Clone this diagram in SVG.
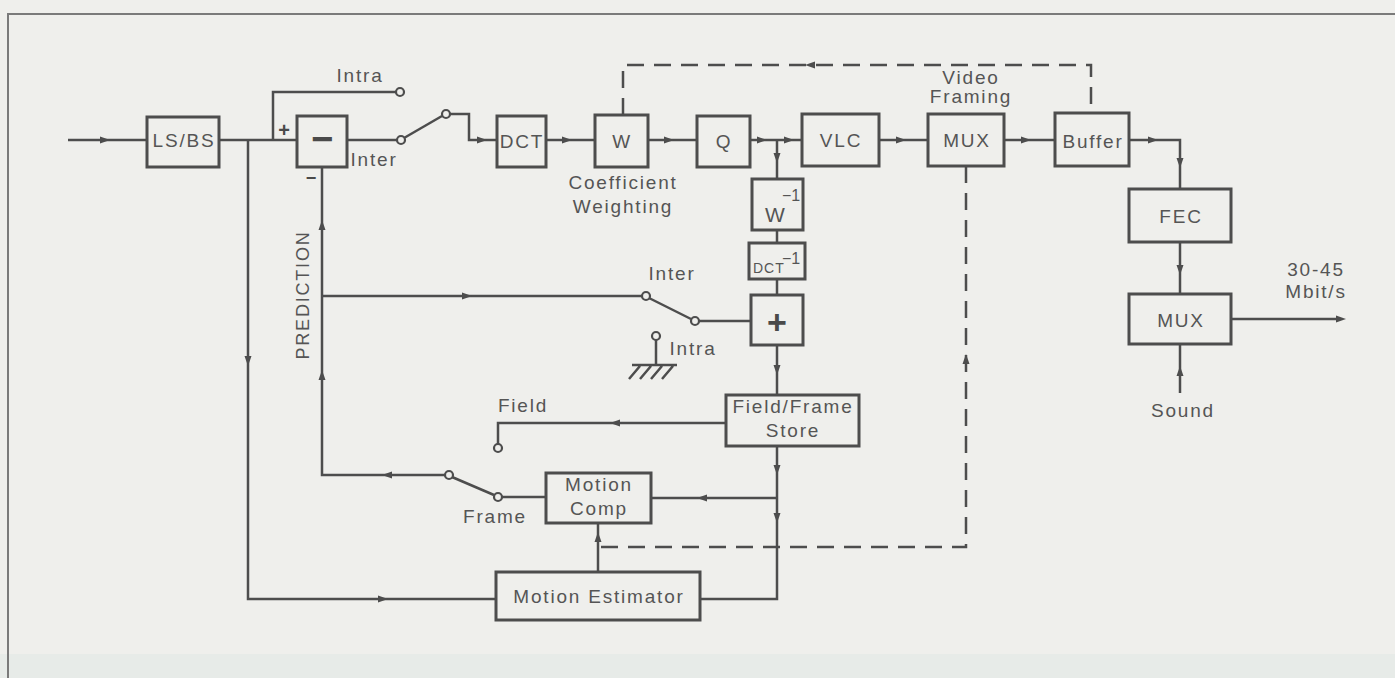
<svg xmlns="http://www.w3.org/2000/svg" xmlns:xlink="http://www.w3.org/1999/xlink" width="1395" height="678" viewBox="0 0 1395 678">
<style>
.bg{fill:#efefec}
.box{fill:none;stroke:#4d4d4d;stroke-width:3}
.ln{fill:none;stroke:#4d4d4d;stroke-width:2.5}
.dash{fill:none;stroke:#4d4d4d;stroke-width:2.5;stroke-dasharray:17 10}
.frm{fill:none;stroke:#7a7a7a;stroke-width:2}
.t{font-family:"Liberation Sans",Arial,sans-serif;font-size:19px;letter-spacing:1.8px;fill:#555;text-anchor:middle}
.s{font-family:"Liberation Sans",Arial,sans-serif;font-size:14px;letter-spacing:1px;fill:#555}
.sup{font-family:"Liberation Sans",Arial,sans-serif;font-size:16px;fill:#555}
.op{font-family:"Liberation Sans",Arial,sans-serif;font-weight:bold;fill:#4a4a4a;text-anchor:middle}
.ah{fill:#4d4d4d}
.c{fill:#efefec;stroke:#4d4d4d;stroke-width:2.2}
</style>
<defs>
<path id="ar" class="ah" d="M-6,-3.5 L4,0 L-6,3.5 Z"/>
</defs>
<rect class="bg" x="0" y="0" width="1395" height="678"/>
<rect x="0" y="654" width="1395" height="24" fill="#e7ebe8"/>
<path class="frm" d="M8,678 V14 H1395"/>

<g id="connectors">
<path class="ln" d="M68,140 H147"/>
<path class="ln" d="M219,140 H297"/>
<path class="ln" d="M248,140 V599 H496"/>
<path class="ln" d="M273,140 V92 H396"/>
<path class="ln" d="M347,140 H397"/>
<path class="ln" d="M404,138 L442,116"/>
<path class="ln" d="M450,114 H469 V140 H497"/>
<path class="ln" d="M546,140 H595"/>
<path class="ln" d="M648,140 H697"/>
<path class="ln" d="M750,140 H802"/>
<path class="ln" d="M777,140 V179 M777,230 V243 M777,279 V295 M777,345 V395 M777,446 V599 H700"/>
<path class="ln" d="M879,140 H928"/>
<path class="ln" d="M1004,140 H1055"/>
<path class="ln" d="M1129,140 H1180 V189"/>
<path class="ln" d="M1180,242 V294"/>
<path class="ln" d="M1180,393 V344"/>
<path class="ln" d="M1231,319 H1340"/>
<path class="ln" d="M322,167 V475 H445"/>
<path class="ln" d="M322,296 H642"/>
<path class="ln" d="M649,298 L691,319"/>
<path class="ln" d="M699,321 H751"/>
<path class="ln" d="M656,340 V365 M632,365 H677 M640,366 L629,379 M651,366 L640,379 M662,366 L651,379 M673,366 L662,379"/>
<path class="ln" d="M726,423 H498 V444"/>
<path class="ln" d="M452,477 L494,495"/>
<path class="ln" d="M502,497 H546"/>
<path class="ln" d="M651,498 H777"/>
<path class="ln" d="M598,572 V523"/>
<path class="dash" d="M623,115 V65 H1091 V113"/>
<path class="dash" d="M966,166 V547 H598"/>
<circle class="c" cx="400" cy="92" r="4"/>
<circle class="c" cx="401" cy="140" r="4"/>
<circle class="c" cx="446" cy="114" r="4"/>
<circle class="c" cx="646" cy="296" r="4"/>
<circle class="c" cx="695" cy="321" r="4"/>
<circle class="c" cx="656" cy="336" r="4"/>
<circle class="c" cx="449" cy="475" r="4"/>
<circle class="c" cx="498" cy="448" r="4"/>
<circle class="c" cx="498" cy="497" r="4"/>
<use xlink:href="#ar" transform="translate(106,140)"/>
<use xlink:href="#ar" transform="translate(483,140)"/>
<use xlink:href="#ar" transform="translate(568,140)"/>
<use xlink:href="#ar" transform="translate(670,140)"/>
<use xlink:href="#ar" transform="translate(763,140)"/>
<use xlink:href="#ar" transform="translate(790,140)"/>
<use xlink:href="#ar" transform="translate(777,159) rotate(90)"/>
<use xlink:href="#ar" transform="translate(902,140)"/>
<use xlink:href="#ar" transform="translate(1027,140)"/>
<use xlink:href="#ar" transform="translate(1154,140)"/>
<use xlink:href="#ar" transform="translate(1180,164) rotate(90)"/>
<use xlink:href="#ar" transform="translate(1180,271) rotate(90)"/>
<use xlink:href="#ar" transform="translate(1180,370) rotate(-90)"/>
<use xlink:href="#ar" transform="translate(1342,319)"/>
<use xlink:href="#ar" transform="translate(809,65) rotate(180)"/>
<use xlink:href="#ar" transform="translate(966,358) rotate(-90)"/>
<use xlink:href="#ar" transform="translate(322,224) rotate(-90)"/>
<use xlink:href="#ar" transform="translate(322,374) rotate(-90)"/>
<use xlink:href="#ar" transform="translate(248,362) rotate(90)"/>
<use xlink:href="#ar" transform="translate(468,296)"/>
<use xlink:href="#ar" transform="translate(777,371) rotate(90)"/>
<use xlink:href="#ar" transform="translate(614,423) rotate(180)"/>
<use xlink:href="#ar" transform="translate(386,475) rotate(180)"/>
<use xlink:href="#ar" transform="translate(777,471) rotate(90)"/>
<use xlink:href="#ar" transform="translate(777,519) rotate(90)"/>
<use xlink:href="#ar" transform="translate(701,498) rotate(180)"/>
<use xlink:href="#ar" transform="translate(384,599)"/>
<use xlink:href="#ar" transform="translate(598,536) rotate(-90)"/>
</g>

<g id="labels">
<text class="t" x="360" y="82">Intra</text>
<text class="t" x="374" y="166">Inter</text>
<text class="op" x="284" y="137" font-size="20">+</text>
<text class="op" x="311" y="184" font-size="18">−</text>
<text class="t" x="304" y="295" transform="rotate(-90 304 295)" style="font-size:18px;dominant-baseline:middle">PREDICTION</text>
<text class="t" x="623" y="189">Coefficient</text>
<text class="t" x="623" y="213">Weighting</text>
<text class="t" x="971" y="84">Video</text>
<text class="t" x="971" y="103">Framing</text>
<text class="t" x="672" y="280">Inter</text>
<text class="t" x="693" y="355">Intra</text>
<text class="t" x="523" y="412">Field</text>
<text class="t" x="495" y="523">Frame</text>
<text class="t" x="1183" y="417">Sound</text>
<text class="t" x="1316" y="276">30-45</text>
<text class="t" x="1316" y="298">Mbit/s</text>
</g>

<g id="lsbs"><rect class="box" x="147" y="117" width="72" height="50"/><text class="t" x="184" y="147">LS/BS</text></g>
<g id="sub"><rect class="box" x="297" y="116" width="50" height="51"/><text class="op" x="322" y="152" font-size="38">−</text></g>
<g id="dct"><rect class="box" x="497" y="116" width="49" height="51"/><text class="t" x="522" y="148">DCT</text></g>
<g id="w"><rect class="box" x="595" y="115" width="53" height="52"/><text class="t" x="622" y="148">W</text></g>
<g id="q"><rect class="box" x="697" y="116" width="53" height="51"/><text class="t" x="724" y="148">Q</text></g>
<g id="vlc"><rect class="box" x="802" y="114" width="77" height="52"/><text class="t" x="841" y="147">VLC</text></g>
<g id="mux1"><rect class="box" x="928" y="114" width="76" height="52"/><text class="t" x="967" y="147">MUX</text></g>
<g id="buffer"><rect class="box" x="1055" y="113" width="74" height="53"/><text class="t" x="1093" y="148">Buffer</text></g>
<g id="fec"><rect class="box" x="1129" y="189" width="102" height="53"/><text class="t" x="1181" y="223">FEC</text></g>
<g id="mux2"><rect class="box" x="1129" y="294" width="102" height="50"/><text class="t" x="1181" y="327">MUX</text></g>
<g id="winv"><rect class="box" x="752" y="179" width="51" height="51"/><text class="t" x="775" y="222" style="letter-spacing:0;font-size:21px">W</text><text class="sup" x="782" y="201">−1</text></g>
<g id="dctinv"><rect class="box" x="749" y="243" width="56" height="36"/><text class="s" x="753" y="273">DCT</text><text class="sup" x="782" y="264">−1</text></g>
<g id="add"><rect class="box" x="751" y="295" width="52" height="50"/><text class="op" x="777" y="334" font-size="34">+</text></g>
<g id="store"><rect class="box" x="726" y="395" width="133" height="51"/><text class="t" x="793" y="413">Field/Frame</text><text class="t" x="793" y="437">Store</text></g>
<g id="mcomp"><rect class="box" x="546" y="473" width="105" height="50"/><text class="t" x="599" y="491">Motion</text><text class="t" x="599" y="515">Comp</text></g>
<g id="mest"><rect class="box" x="496" y="572" width="204" height="48"/><text class="t" x="599" y="603">Motion Estimator</text></g>
</svg>
